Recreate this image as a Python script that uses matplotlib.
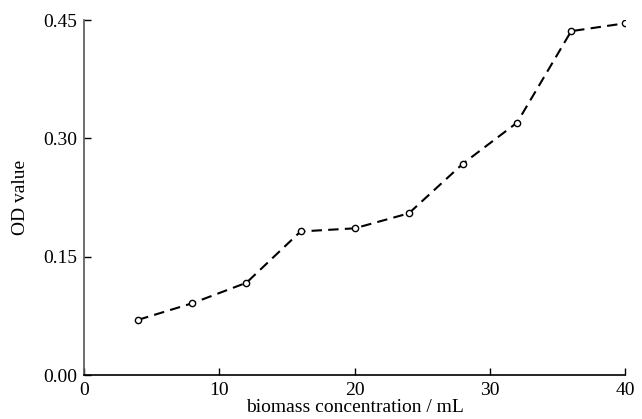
import matplotlib.pyplot as plt

biomass = [4, 8, 12, 16, 20, 24, 28, 32, 36, 40]
od_value = [0.070, 0.091, 0.117, 0.182, 0.186, 0.205, 0.268, 0.320, 0.436, 0.446]
x_ticks = [0, 10, 20, 30, 40]
y_ticks = [0.00, 0.15, 0.30, 0.45]

plt.rcParams['font.family'] = ['Liberation Serif', 'DejaVu Serif']

fig = plt.figure(figsize=(6.42, 4.19), dpi=100)
ax = fig.add_axes([0.131, 0.105, 0.843, 0.847])

ax.plot(biomass, od_value, color='black', linestyle=(0, (5, 3)), linewidth=1.5,
        marker='o', markersize=4.5, markerfacecolor='white', markeredgecolor='black',
        markeredgewidth=1.0)

ax.set_xlim(0, 40)
ax.set_ylim(0, 0.45)
ax.set_xticks(x_ticks)
ax.set_yticks(y_ticks)
ax.set_yticklabels([f"{v:.2f}" for v in y_ticks])
ax.tick_params(direction='in', length=5, width=1, labelsize=14)
ax.tick_params(axis='x', pad=5)
ax.tick_params(axis='y', pad=5)

for side in ['top', 'right']:
    ax.spines[side].set_visible(False)
ax.spines['left'].set_color('#555555')
ax.spines['left'].set_linewidth(1.2)
ax.spines['bottom'].set_linewidth(1.2)

ax.set_xlabel("biomass concentration / mL", fontsize=14, labelpad=0)
ax.set_ylabel("OD value", fontsize=14, labelpad=10)

fig.savefig("out.png", dpi=100)
